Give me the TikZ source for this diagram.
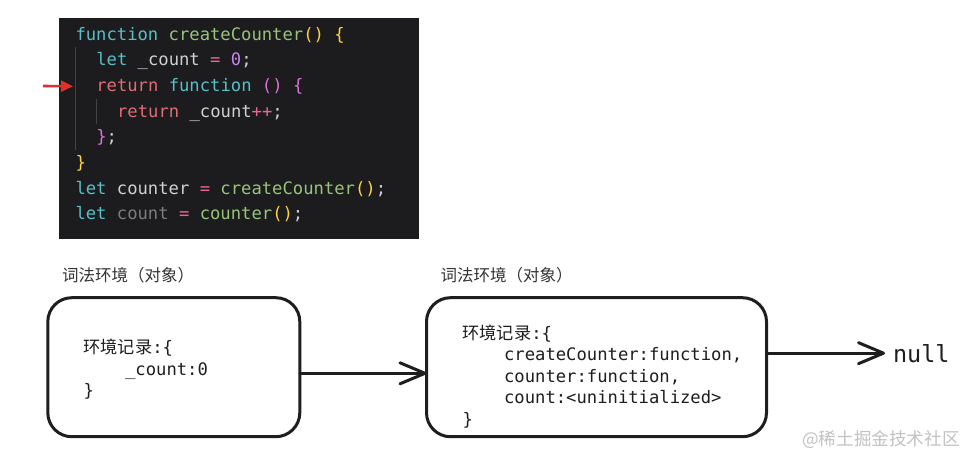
\documentclass[tikz,border=0pt]{standalone}
\usepackage{fontspec}
\usetikzlibrary{arrows.meta}
\setmonofont{DejaVu Sans Mono}
\newfontfamily\cjk{Noto Sans CJK SC}
\newfontfamily\codefont{DejaVu Sans Mono}
\definecolor{cbg}{HTML}{1C1C1E}
\definecolor{ckw}{HTML}{56BFC8}
\definecolor{cfn}{HTML}{98C379}
\definecolor{cret}{HTML}{E06C75}
\definecolor{cvar}{HTML}{CDD0D6}
\definecolor{cop}{HTML}{E8688E}
\definecolor{cnum}{HTML}{C386EE}
\definecolor{cgold}{HTML}{FFD23F}
\definecolor{corch}{HTML}{DA70D6}
\definecolor{cdim}{HTML}{7C7C7C}
\definecolor{cguide}{HTML}{434343}
\definecolor{cred}{HTML}{E0302C}
\definecolor{cink}{HTML}{1E1E1E}
\definecolor{clabel}{HTML}{333333}
\definecolor{cwm}{HTML}{C2C2C2}
\newcommand{\K}[1]{\textcolor{ckw}{#1}}
\newcommand{\F}[1]{\textcolor{cfn}{#1}}
\newcommand{\R}[1]{\textcolor{cret}{#1}}
\newcommand{\V}[1]{\textcolor{cvar}{#1}}
\newcommand{\OP}[1]{\textcolor{cop}{#1}}
\newcommand{\N}[1]{\textcolor{cnum}{#1}}
\newcommand{\G}[1]{\textcolor{cgold}{#1}}
\newcommand{\M}[1]{\textcolor{corch}{#1}}
\newcommand{\D}[1]{\textcolor{cdim}{#1}}
\begin{document}
\begin{tikzpicture}[x=1pt,y=-1pt,
  codeline/.style={anchor=base west,inner sep=0pt,outer sep=0pt,font=\codefont\fontsize{17.2pt}{20pt}\selectfont},
  boxline/.style={anchor=base west,inner sep=0pt,outer sep=0pt,text=cink,font=\codefont\fontsize{17.2pt}{20pt}\selectfont},
  envlabel/.style={anchor=base west,inner sep=0pt,outer sep=0pt,text=clabel,font=\cjk\fontsize{16.5pt}{20pt}\selectfont},
  envbox/.style={draw=cink,line width=3pt,rounded corners=24pt,inner sep=0pt,outer sep=0pt},
  conn/.style={draw=cink,line width=3pt,line cap=round,-{Straight Barb[length=25pt,width=21pt,line width=3pt,round]}},
  guide/.style={draw=cguide,line width=1pt}
]
\useasboundingbox (0,0) rectangle (969,455);
\fill[white] (0,0) rectangle (969,455);
% code block
\node[fill=cbg,minimum width=360pt,minimum height=220.5pt,inner sep=0pt,outer sep=0pt,anchor=north west] (code) at (59,18.3) {};
\draw[guide] (75.5,47) -- (75.5,150);
\draw[guide] (96.5,99) -- (96.5,124);
\node[codeline] (l1) at (75.5,40) {\K{function} \F{createCounter}\G{()} \G{\{}};
\node[codeline] (l2) at (96.3,65.7) {\K{let} \V{\_count} \OP{=} \N{0}\V{;}};
\node[codeline] (l3) at (96.3,91.4) {\R{return} \K{function} \M{()} \M{\{}};
\node[codeline] (l4) at (117.1,117.1) {\R{return} \V{\_count}\OP{++}\V{;}};
\node[codeline] (l5) at (96.3,142.8) {\M{\}}\V{;}};
\node[codeline] (l6) at (75.5,168.5) {\G{\}}};
\node[codeline] (l7) at (75.5,194.2) {\K{let} \V{counter} \OP{=} \F{createCounter}\G{()}\V{;}};
\node[codeline] (l8) at (75.5,219.9) {\K{let} \D{count} \OP{=} \F{counter}\G{()}\V{;}};
% red pointer
\coordinate (ptail) at (43,86);
\draw[cred,line width=2.6pt,-{Triangle[length=12pt,width=11pt]}] (ptail) -- (l3.west -| 73,0);
% labels
\node[envlabel] (lab1) at (62,281.5) {词法环境（对象）};
\node[envlabel] (lab2) at (440.5,281.5) {词法环境（对象）};
% boxes
\node[envbox,minimum width=252pt,minimum height=139pt] (b1) at (173.8,367.2) {};
\node[envbox,minimum width=340pt,minimum height=139pt] (b2) at (596.5,367.2) {};
% box1 text
\node[boxline] (t11) at (83.5,353.5) {{\cjk 环境记录}:\{};
\node[boxline] (t12) at (125.1,375) {\_count:0};
\node[boxline] (t13) at (83.5,396.5) {\}};
% box2 text
\node[boxline] (t21) at (462.5,339.5) {{\cjk 环境记录}:\{};
\node[boxline] (t22) at (504.1,360.9) {createCounter:function,};
\node[boxline] (t23) at (504.1,382.3) {counter:function,};
\node[boxline] (t24) at (504.1,403.7) {count:<uninitialized>};
\node[boxline] (t25) at (462.5,425.1) {\}};
% null
\node[anchor=base west,inner sep=0pt,outer sep=0pt,text=cink,font=\codefont\fontsize{23.5pt}{26pt}\selectfont] (null) at (893,362) {null};
% connectors
\draw[conn] ([yshift=-6.1pt]b1.east) -- ([yshift=-6.1pt]b2.west);
\draw[conn,shorten >=8pt] (b2.east |- null.west) -- (null.west);
% watermark
\node[anchor=base west,inner sep=0pt,text=cwm,font=\cjk\fontsize{17.6pt}{20pt}\selectfont] (wm) at (802,445.5) {@稀土掘金技术社区};
\end{tikzpicture}
\end{document}
